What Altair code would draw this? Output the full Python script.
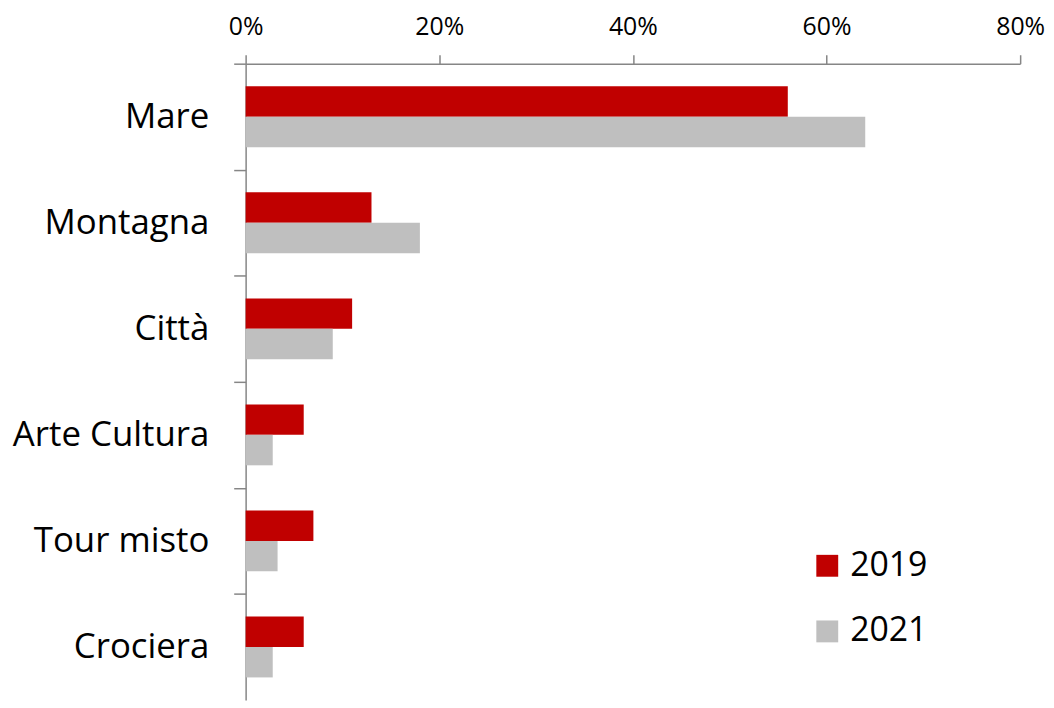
import altair as alt
import pandas as pd

categories = ["Mare", "Montagna", "Città", "Arte Cultura", "Tour misto", "Crociera"]
years = ["2019", "2021"]
values_2019 = [0.56, 0.13, 0.11, 0.06, 0.07, 0.06]
values_2021 = [0.64, 0.18, 0.09, 0.028, 0.033, 0.028]
x_ticks = [0, 0.2, 0.4, 0.6, 0.8]
colors = ["#C00000", "#BFBFBF"]

rows = []
for c, a, b in zip(categories, values_2019, values_2021):
    rows.append({"cat": c, "year": "2019", "val": a})
    rows.append({"cat": c, "year": "2021", "val": b})
df = pd.DataFrame(rows)

W = 779
H = 640
step = H / len(categories)
FONT = "Open Sans"
AX = "#868686"

chart = alt.Chart(df).mark_bar().encode(
    x=alt.X("val:Q",
            scale=alt.Scale(domain=[0, 0.8], nice=False),
            axis=alt.Axis(orient="top", format=".0%", values=x_ticks, title=None,
                          grid=False, domainColor=AX, domainWidth=1.5,
                          tickColor=AX, tickWidth=1.5, tickSize=9,
                          labelFontSize=25, labelColor="black", labelFont=FONT,
                          labelPadding=15, labelFlush=False)),
    y=alt.Y("cat:N", sort=categories,
            scale=alt.Scale(paddingInner=0.426, paddingOuter=0.213),
            axis=alt.Axis(title=None, domainColor=AX, domainWidth=1.5,
                          tickColor=AX, tickWidth=1.5, tickSize=12,
                          tickOffset=-step / 2, labelOffset=step / 2,
                          labelFontSize=35, labelColor="black", labelFont=FONT,
                          labelPadding=25, labelLimit=0)),
    yOffset=alt.YOffset("year:N", sort=years, scale=alt.Scale(paddingInner=0, paddingOuter=0)),
    color=alt.Color("year:N", sort=years,
                    scale=alt.Scale(domain=years, range=colors),
                    legend=alt.Legend(orient="none", legendX=568, legendY=488, title=None,
                                      symbolType="square", symbolSize=484,
                                      symbolStrokeWidth=0, labelFontSize=34,
                                      labelFont=FONT, labelColor="black",
                                      labelOffset=6, rowPadding=32)),
).properties(
    width=W, height=H,
    autosize=alt.AutoSizeParams(type="none"),
    padding={"left": 239, "top": 54, "right": 26, "bottom": 0},
).configure(font=FONT).configure_view(stroke=None)

chart.save("out.html", embed_options={"renderer": "svg", "actions": False})
